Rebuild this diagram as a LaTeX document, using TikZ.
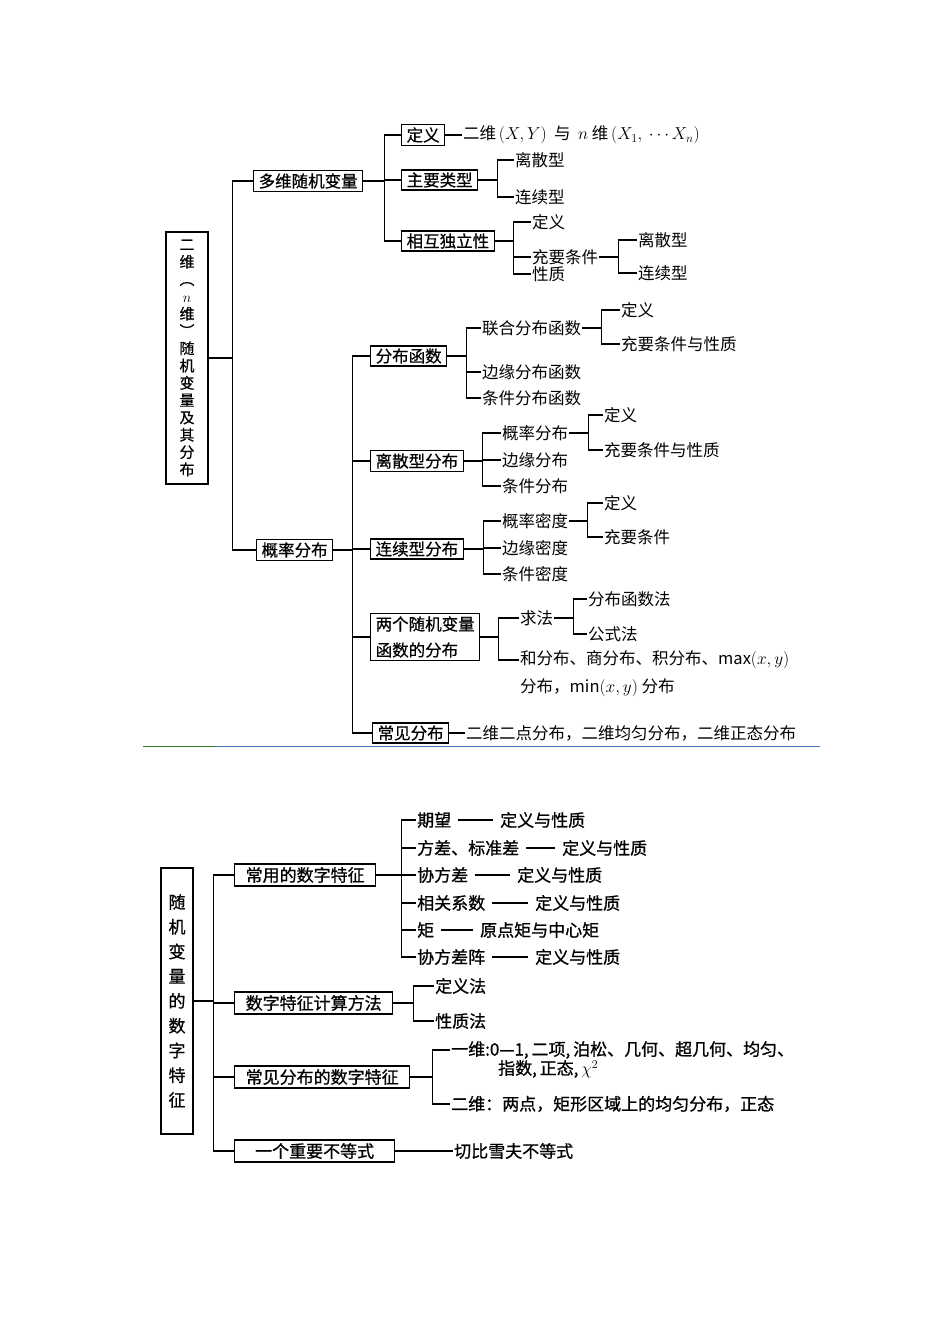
\documentclass[tikz,border=0pt]{standalone}
\usepackage{fontspec}
\setmainfont{Noto Sans CJK SC}
\newfontfamily\medcjk{Noto Sans CJK SC}[FakeBold=0.5]
\newfontfamily\botcjk{Noto Sans CJK SC}[FakeBold=0.9]
\newcommand\topfont{\fontsize{16.5}{19}\selectfont}
\newcommand\topbfont{\medcjk\fontsize{16.5}{19}\selectfont}
\newcommand\botfont{\botcjk\fontsize{17}{20}\selectfont}
\definecolor{sepgreen}{HTML}{3A7D2C}
\definecolor{sepblue}{HTML}{4472C4}
\tikzset{
  box/.style={draw, line width=1.3pt, inner xsep=5pt, inner ysep=2.5pt, anchor=west, font=\topbfont},
  boxb/.style={draw, line width=1.3pt, inner xsep=11pt, inner ysep=3pt, anchor=west, font=\botfont},
  leaf/.style={inner sep=1pt, anchor=west, font=\topfont},
  leafb/.style={inner sep=1pt, anchor=west, font=\botfont},
  conn/.style={line width=1.2pt},
  dashconn/.style={line width=1.2pt, shorten <=6pt, shorten >=6pt},
}
\begin{document}
\begin{tikzpicture}[x=1pt,y=-1pt]
\useasboundingbox (0,0) rectangle (950,1344);

% ================= top diagram =================
\node[draw, line width=1.3pt, minimum width=42, minimum height=252, inner sep=0pt, align=center,
      font=\medcjk\fontsize{15}{17.3}\selectfont] (root1) at (187,358)
  {二\\维\\︵\\$n$\\维\\︶\\随\\机\\变\\量\\及\\其\\分\\布};

\node[box] (mv) at (253,181) {多维随机变量};
\node[box] (gl) at (256,550) {概率分布};
\draw[conn] (root1.east) -- ++(24,0) |- (mv.west);
\draw[conn] (root1.east) -- ++(24,0) |- (gl.west);

% 多维随机变量
\node[box] (dy1) at (401,135) {定义};
\node[box] (zy) at (401,180) {主要类型};
\node[box] (xh) at (401,241) {相互独立性};
\draw[conn] (mv.east) -- ++(21,0) |- (dy1.west);
\draw[conn] (mv.east) -- ++(21,0) |- (zy.west);
\draw[conn] (mv.east) -- ++(21,0) |- (xh.west);

\node[leaf] (tdef) at (462,135) {二维\,$(X,Y)$\ \ 与\ \ $n$\ 维\,$(X_1,\ \cdots X_n)$};
\draw[conn] (dy1.east) -- (tdef.west);

\node[leaf] (ls1) at (514,160) {离散型};
\node[leaf] (lx1) at (514,197) {连续型};
\draw[conn] (zy.east) -- ++(19,0) |- (ls1.west);
\draw[conn] (zy.east) -- ++(19,0) |- (lx1.west);

\node[leaf] (dy2) at (531,222) {定义};
\node[leaf] (cy) at (531,257) {充要条件};
\node[leaf] (xz) at (531,274) {性质};
\draw[conn] (xh.east) -- ++(19,0) |- (dy2.west);
\draw[conn] (xh.east) -- ++(19,0) |- (cy.west);
\draw[conn] (xh.east) -- ++(19,0) |- (xz.west);

\node[leaf] (ls2) at (637,240) {离散型};
\node[leaf] (lx2) at (637,273) {连续型};
\draw[conn] (cy.east) -- ++(19,0) |- (ls2.west);
\draw[conn] (cy.east) -- ++(19,0) |- (lx2.west);

% 概率分布
\node[box] (fb) at (370,356) {分布函数};
\node[box] (ls) at (370,461) {离散型分布};
\node[box] (lx) at (370,549) {连续型分布};
\node[box, align=left, font=\medcjk\fontsize{16.5}{26}\selectfont] (lg) at (370,637) {两个随机变量\\函数的分布};
\node[box] (cj) at (372,733) {常见分布};
\foreach \c in {fb,ls,lx,lg,cj}
  \draw[conn] (gl.east) -- ++(19,0) |- (\c.west);

\node[leaf] (tcj) at (465,733) {二维二点分布，二维均匀分布，二维正态分布};
\draw[conn] (cj.east) -- (tcj.west);

% 分布函数
\node[leaf] (lh) at (481,328) {联合分布函数};
\node[leaf] (by) at (481,372) {边缘分布函数};
\node[leaf] (tj) at (481,398) {条件分布函数};
\foreach \c in {lh,by,tj}
  \draw[conn] (fb.east) -- ++(19,0) |- (\c.west);
\node[leaf] (dy3) at (620,310) {定义};
\node[leaf] (cx3) at (620,344) {充要条件与性质};
\draw[conn] (lh.east) -- ++(19,0) |- (dy3.west);
\draw[conn] (lh.east) -- ++(19,0) |- (cx3.west);

% 离散型分布
\node[leaf] (gf) at (501,433) {概率分布};
\node[leaf] (bf) at (501,460) {边缘分布};
\node[leaf] (tf) at (501,486) {条件分布};
\foreach \c in {gf,bf,tf}
  \draw[conn] (ls.east) -- ++(19,0) |- (\c.west);
\node[leaf] (dy4) at (603,415) {定义};
\node[leaf] (cx4) at (603,450) {充要条件与性质};
\draw[conn] (gf.east) -- ++(19,0) |- (dy4.west);
\draw[conn] (gf.east) -- ++(19,0) |- (cx4.west);

% 连续型分布
\node[leaf] (gm) at (501,521) {概率密度};
\node[leaf] (bm) at (501,548) {边缘密度};
\node[leaf] (tm) at (501,574) {条件密度};
\foreach \c in {gm,bm,tm}
  \draw[conn] (lx.east) -- ++(20,0) |- (\c.west);
\node[leaf] (dy5) at (603,503) {定义};
\node[leaf] (cx5) at (603,537) {充要条件};
\draw[conn] (gm.east) -- ++(18,0) |- (dy5.west);
\draw[conn] (gm.east) -- ++(18,0) |- (cx5.west);

% 两个随机变量函数的分布
\node[leaf] (qf) at (519,618) {求法};
\node[leaf] (hf) at (519,660) {和分布、商分布、积分布、$\max(x,y)$};
\node[leaf] (hf2) at (519,688) {分布，$\min(x,y)$ 分布};
\draw[conn] (lg.east) -- ++(18,0) |- (qf.west);
\draw[conn] (lg.east) -- ++(18,0) |- (hf.west);
\node[leaf] (fbf) at (587,599) {分布函数法};
\node[leaf] (gsf) at (587,634) {公式法};
\draw[conn] (qf.east) -- ++(19,0) |- (fbf.west);
\draw[conn] (qf.east) -- ++(19,0) |- (gsf.west);

% separator
\draw[sepgreen, line width=1pt] (143,746) -- (215,746);
\draw[sepblue, line width=1pt] (215,746) -- (820,746);

% ================= bottom diagram =================
\node[draw, line width=1.3pt, minimum width=32, minimum height=266, inner sep=0pt, align=center,
      font=\botcjk\fontsize{17}{24.75}\selectfont] (root2) at (177,1001)
  {随\\机\\变\\量\\的\\数\\字\\特\\征};

\node[boxb] (cy2) at (234,875) {常用的数字特征};
\node[boxb] (js) at (234,1003) {数字特征计算方法};
\node[boxb] (cjs) at (234,1077) {常见分布的数字特征};
\node[boxb, minimum width=160] (bd) at (234,1151) {一个重要不等式};
\foreach \c in {cy2,js,cjs,bd}
  \draw[conn] (root2.east) -- ++(20,0) |- (\c.west);

% 常用的数字特征
\node[leafb] (a1) at (416,820) {期望};
\node[leafb] (a2) at (416,848) {方差、标准差};
\node[leafb] (a3) at (416,875) {协方差};
\node[leafb] (a4) at (416,903) {相关系数};
\node[leafb] (a5) at (416,930) {矩};
\node[leafb] (a6) at (416,957) {协方差阵};
\foreach \c in {a1,a2,a3,a4,a5,a6}
  \draw[conn] (cy2.east) -- ++(25,0) |- (\c.west);
\node[leafb] (b1) at (499,820) {定义与性质};
\node[leafb] (b2) at (561,848) {定义与性质};
\node[leafb] (b3) at (516,875) {定义与性质};
\node[leafb] (b4) at (534,903) {定义与性质};
\node[leafb] (b5) at (479,930) {原点矩与中心矩};
\node[leafb] (b6) at (534,957) {定义与性质};
\foreach \i in {1,...,6}
  \draw[dashconn] (a\i.east) -- (b\i.west);

% 数字特征计算方法
\node[leafb] (dyf) at (434,986) {定义法};
\node[leafb] (xzf) at (434,1021) {性质法};
\draw[conn] (js.east) -- ++(20,0) |- (dyf.west);
\draw[conn] (js.east) -- ++(20,0) |- (xzf.west);

% 常见分布的数字特征
\node[leafb] (yw) at (450,1050) {一维:0—1,\,二项,\,泊松、几何、超几何、均匀、};
\node[leafb] (yw2) at (497,1069) {指数,\,正态,\,$\chi^2$};
\node[leafb] (ew) at (450,1104) {二维：两点，矩形区域上的均匀分布，正态};
\draw[conn] (cjs.east) -- ++(22,0) |- (yw.west);
\draw[conn] (cjs.east) -- ++(22,0) |- (ew.west);

% 一个重要不等式
\node[leafb] (qb) at (453,1151) {切比雪夫不等式};
\draw[conn] (bd.east) -- (qb.west);
\end{tikzpicture}
\end{document}
